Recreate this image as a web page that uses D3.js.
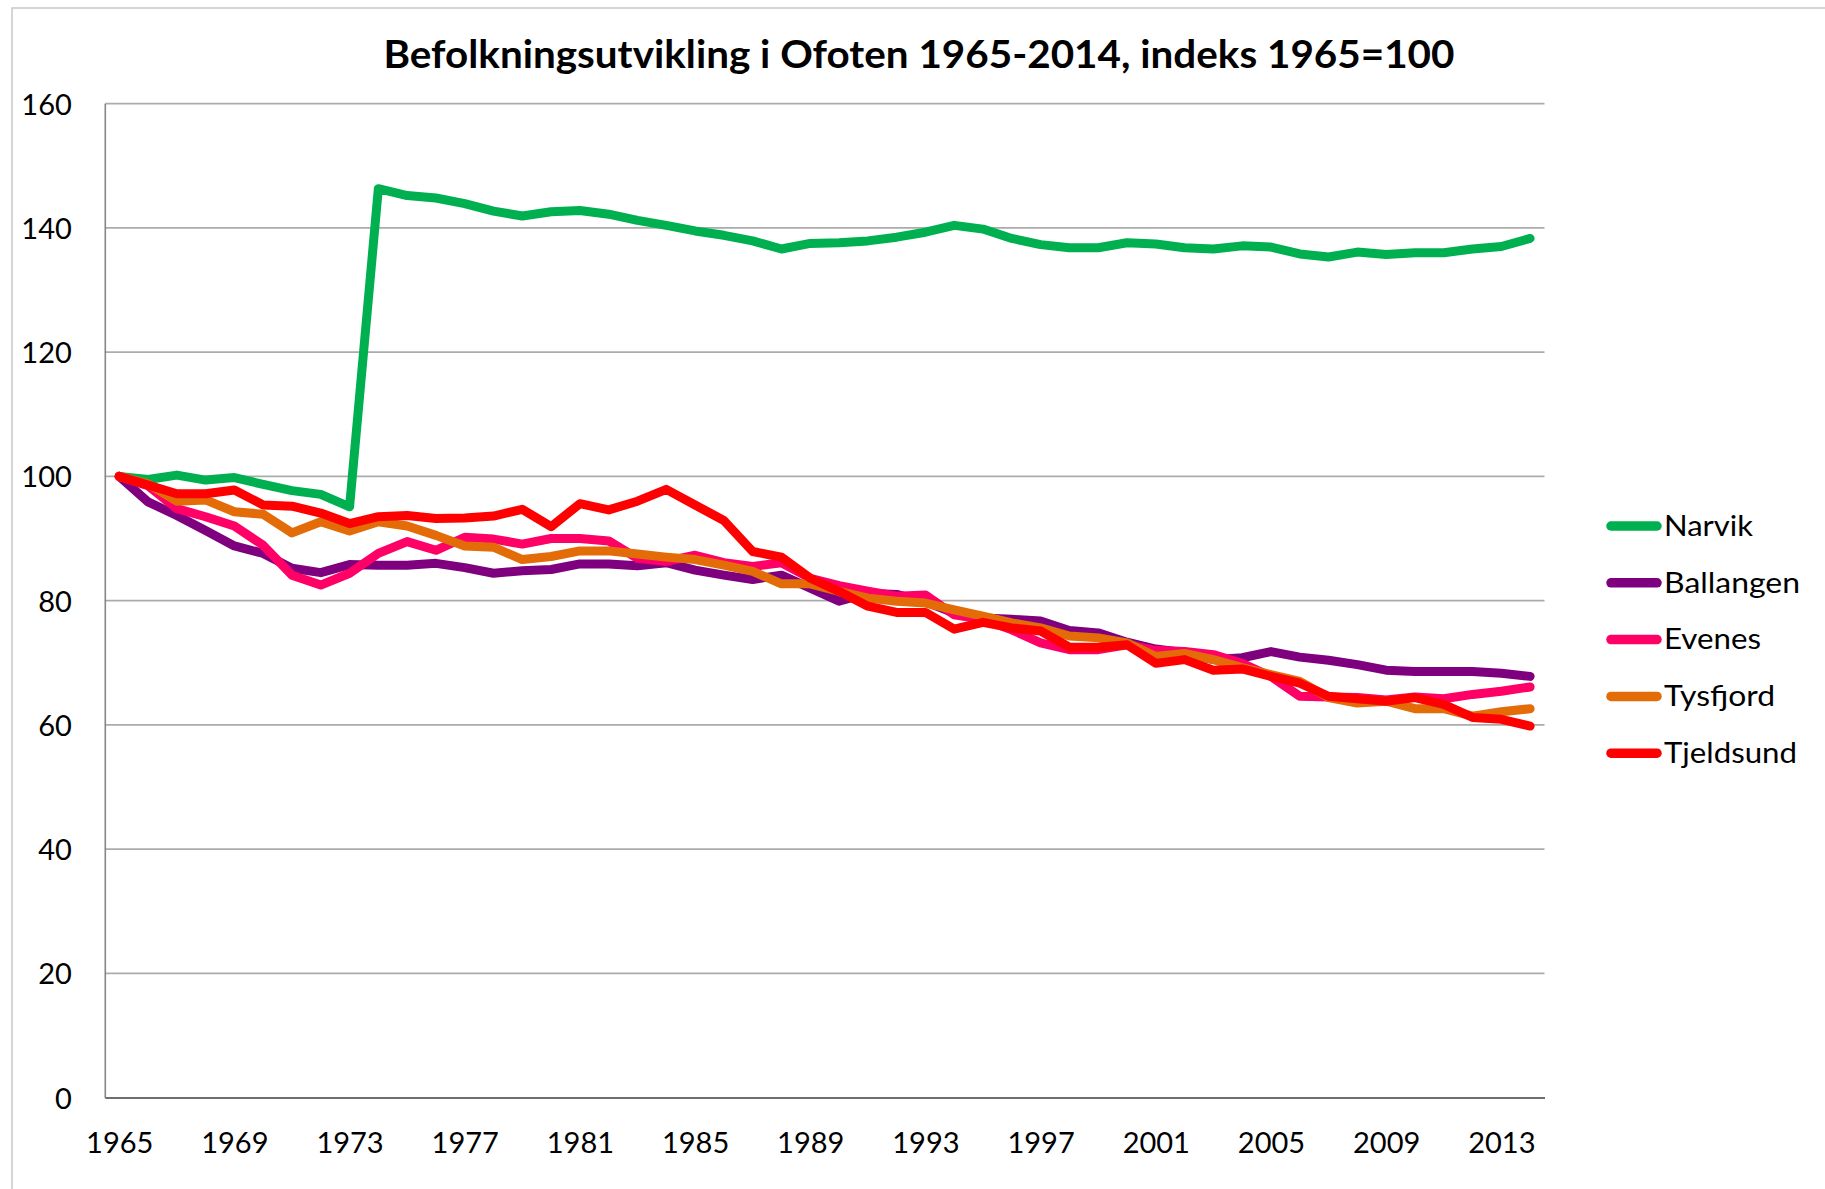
<!DOCTYPE html>
<html>
<head>
<meta charset="utf-8">
<script src="https://cdn.jsdelivr.net/npm/d3@7"></script>
<style>
  html, body { margin: 0; padding: 0; background: #ffffff; }
  svg { display: block; }
  text { font-family: Lato, "Open Sans", "DejaVu Sans", sans-serif; fill: #000; }
</style>
</head>
<body>
<svg id="chart" width="1825" height="1189"></svg>
<script>
// ---------- data ----------
const years = d3.range(1965, 2015);
const xTickLabels = [1965, 1969, 1973, 1977, 1981, 1985, 1989, 1993, 1997, 2001, 2005, 2009, 2013];
const yTicks = [0, 20, 40, 60, 80, 100, 120, 140, 160];
const seriesNames = ["Narvik", "Ballangen", "Evenes", "Tysfjord", "Tjeldsund"];
const seriesColors = ["#00b050", "#7f007f", "#ff0066", "#e36c09", "#ff0000"];

const narvik = [100, 99.5, 100.2, 99.4, 99.8, 98.7, 97.7, 97.1, 95.1, 146.3,
  145.2, 144.8, 143.9, 142.7, 141.9, 142.6, 142.8, 142.2, 141.2, 140.4,
  139.5, 138.8, 137.9, 136.6, 137.5, 137.6, 137.9, 138.5, 139.3, 140.4,
  139.8, 138.3, 137.3, 136.8, 136.8, 137.6, 137.4, 136.8, 136.6, 137.1,
  136.9, 135.8, 135.3, 136.1, 135.7, 136.0, 136.0, 136.6, 137.0, 138.3];
const ballangen = [100, 95.9, 93.7, 91.3, 88.8, 87.6, 85.2, 84.5, 85.8, 85.7,
  85.7, 86.0, 85.3, 84.4, 84.8, 85.0, 85.9, 85.9, 85.6, 86.1,
  84.9, 84.1, 83.4, 84.1, 82.0, 79.9, 81.2, 81.0, 79.8, 78.0,
  77.2, 77.0, 76.7, 75.2, 74.8, 73.3, 72.2, 71.6, 70.5, 70.8,
  71.8, 70.9, 70.4, 69.7, 68.8, 68.6, 68.6, 68.6, 68.3, 67.8];
const evenes = [100, 98.5, 94.8, 93.5, 92.0, 88.9, 84.1, 82.5, 84.4, 87.6,
  89.5, 88.1, 90.2, 89.9, 89.1, 90.0, 90.0, 89.6, 86.8, 86.3,
  87.3, 86.1, 85.5, 86.1, 83.6, 82.4, 81.5, 80.7, 80.9, 77.7,
  77.0, 75.3, 73.2, 72.1, 72.1, 72.9, 72.0, 71.8, 71.3, 69.9,
  67.8, 64.6, 64.5, 64.4, 64.0, 64.5, 64.2, 64.9, 65.4, 66.1];
const tysfjord = [100, 98.8, 96.0, 96.2, 94.3, 93.9, 90.9, 92.7, 91.2, 92.7,
  92.0, 90.5, 88.8, 88.6, 86.6, 87.1, 88.0, 88.0, 87.5, 87.0,
  86.6, 85.7, 84.7, 82.7, 82.7, 81.5, 80.4, 79.9, 79.6, 78.5,
  77.5, 76.4, 75.6, 74.3, 74.0, 73.2, 71.0, 71.5, 70.5, 69.2,
  68.1, 67.0, 64.4, 63.5, 63.8, 62.6, 62.6, 61.4, 62.1, 62.6];
const tjeldsund = [100, 98.6, 97.2, 97.2, 97.8, 95.4, 95.2, 94.1, 92.4, 93.5,
  93.7, 93.2, 93.3, 93.6, 94.7, 91.9, 95.6, 94.6, 96.0, 97.9,
  95.4, 92.9, 87.9, 87.0, 83.6, 81.5, 79.1, 78.1, 78.1, 75.4,
  76.5, 75.6, 75.1, 72.5, 72.5, 72.9, 69.9, 70.5, 68.8, 69.0,
  67.8, 66.7, 64.6, 64.2, 63.8, 64.4, 63.3, 61.2, 60.9, 59.8];
const seriesValues = [narvik, ballangen, evenes, tysfjord, tjeldsund];
const titleText = "Befolkningsutvikling i Ofoten 1965-2014, indeks 1965=100";

// ---------- layout ----------
const W = 1825, H = 1189;
const plot = { left: 104.8, right: 1544.5, top: 103.6, bottom: 1097.6 };
const svg = d3.select("#chart");

// chart area border
svg.append("rect")
  .attr("x", 12).attr("y", 8)
  .attr("width", W + 20).attr("height", H + 20)
  .attr("fill", "#ffffff")
  .attr("stroke", "#c8c8c8").attr("stroke-width", 1.5);

const x = d3.scalePoint().domain(years).range([plot.left, plot.right]).padding(0.5);
const y = d3.scaleLinear().domain([0, 160]).range([plot.bottom, plot.top]);

// gridlines
svg.append("g").selectAll("line")
  .data(yTicks.filter(d => d > 0))
  .join("line")
  .attr("x1", plot.left).attr("x2", plot.right)
  .attr("y1", d => y(d)).attr("y2", d => y(d))
  .attr("stroke", "#ababab").attr("stroke-width", 1.6);

// y axis
const yAxis = svg.append("g")
  .attr("transform", `translate(${plot.left},0)`)
  .call(d3.axisLeft(y).tickValues(yTicks).tickSize(0).tickPadding(33).tickFormat(d3.format("d")));
yAxis.select(".domain").attr("stroke", "#868686").attr("stroke-width", 1.6);
yAxis.selectAll("text")
  .attr("font-size", 29).attr("dy", "0.36em")
  .style("font-family", "Lato, 'Open Sans', sans-serif").attr("fill", "#000");

// x axis
const xAxis = svg.append("g")
  .attr("transform", `translate(0,${plot.bottom})`)
  .call(d3.axisBottom(x).tickValues(xTickLabels).tickSize(0).tickPadding(35));
xAxis.select(".domain").attr("stroke", "#6e6e6e").attr("stroke-width", 2);
xAxis.selectAll("text")
  .attr("font-size", 29)
  .style("font-family", "Lato, 'Open Sans', sans-serif").attr("fill", "#000");

// lines
const line = d3.line()
  .x((d, i) => x(years[i]))
  .y(d => y(d));

svg.append("g").selectAll("path")
  .data(seriesValues)
  .join("path")
  .attr("d", d => line(d))
  .attr("fill", "none")
  .attr("stroke", (d, i) => seriesColors[i])
  .attr("stroke-width", 9)
  .attr("stroke-linejoin", "round")
  .attr("stroke-linecap", "round");

// title
const title = svg.append("text")
  .attr("x", 919).attr("y", 68)
  .attr("text-anchor", "middle")
  .attr("font-size", 37.5)
  .attr("font-weight", "bold")
  .text(titleText);
fitWidth(title, 1071);

// legend
const legendY0 = 526, legendStep = 56.8;
const legendWidths = [89, 136, 97, 111, 133];
const legend = svg.append("g");
seriesNames.forEach((name, i) => {
  const ly = legendY0 + i * legendStep;
  legend.append("line")
    .attr("x1", 1611).attr("x2", 1657)
    .attr("y1", ly).attr("y2", ly)
    .attr("stroke", seriesColors[i])
    .attr("stroke-width", 9.5)
    .attr("stroke-linecap", "round");
  const t = legend.append("text")
    .attr("x", 1664).attr("y", ly + 9.8)
    .attr("font-size", 28)
    .text(name);
  fitWidth(t, legendWidths[i]);
});

function fitWidth(sel, target) {
  const node = sel.node();
  const w = node.getComputedTextLength();
  if (w > 0 && Math.abs(w - target) / target > 0.01) {
    sel.attr("textLength", target).attr("lengthAdjust", "spacingAndGlyphs");
  }
}
</script>
</body>
</html>
